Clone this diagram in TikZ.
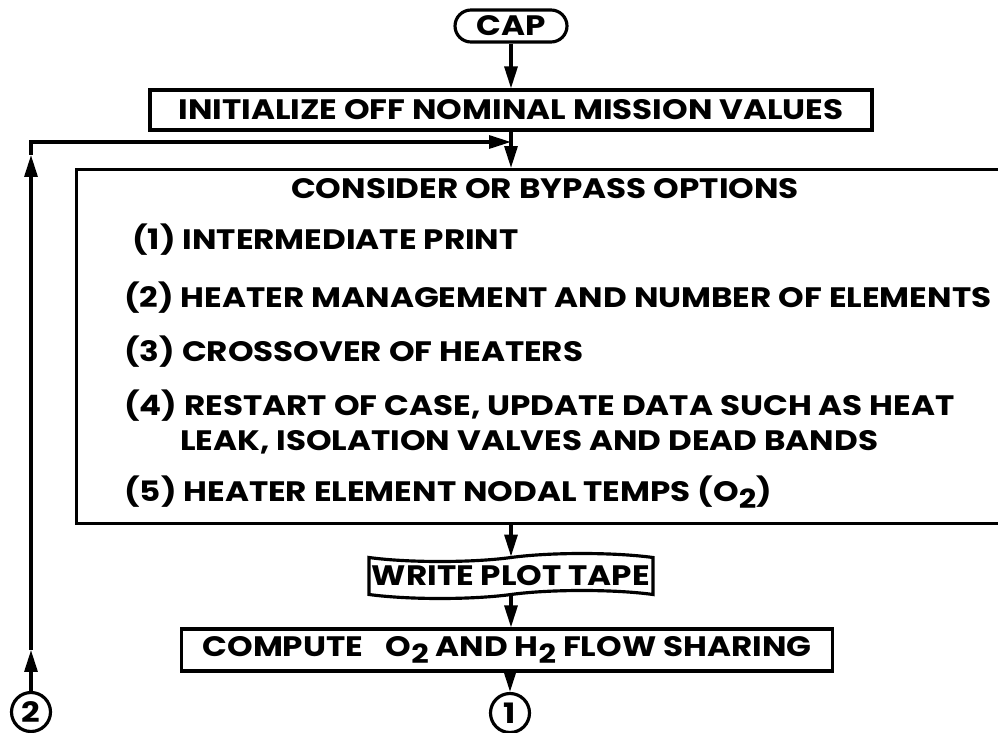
\documentclass[tikz,border=0pt]{standalone}
\usepackage{fontspec}
\setmainfont{Poppins}[FakeStretch=1.16]
\usetikzlibrary{arrows.meta,positioning,shapes.symbols}
\newcommand{\subtwo}{\raisebox{-0.45ex}{\fontsize{15}{15}\selectfont 2}}

\begin{document}
\begin{tikzpicture}[
    x=0.02cm, y=-0.02cm,
    font=\fontsize{16}{18}\selectfont\bfseries,
    box/.style={rectangle, draw, line width=1.8pt, inner sep=0pt},
    term/.style={box, rounded corners=0.32cm, minimum width=2.24cm, minimum height=0.64cm},
    tapebox/.style={tape, draw, line width=1.8pt, inner sep=0pt, minimum width=5.68cm, minimum height=0.9cm, tape bend height=0.16cm},
    conn/.style={circle, draw, line width=1.8pt, inner sep=0pt, minimum size=0.78cm},
    item/.style={anchor=base west, inner sep=0pt},
    arr/.style={-{Triangle[length=4.4mm, width=2.6mm]}, line width=1.8pt}
]
    \useasboundingbox (0,0) rectangle (998,733);

    % main chain
    \node[term] (cap) at (511,26) {CAP};
    \node[box, minimum width=14.44cm, minimum height=0.8cm] (init) at (511,110) {INITIALIZE OFF NOMINAL MISSION VALUES};
    \node[box, anchor=north west, minimum width=18.8cm, minimum height=7.08cm] (opts) at (75,168) {};
    \node[tapebox] (plot) at (511,576) {WRITE PLOT TAPE};
    \node[box, minimum width=13.02cm, minimum height=0.84cm] (flow) at (507,650) {COMPUTE\hspace{0.55em} O\subtwo{} AND H\subtwo{} FLOW SHARING};
    \node[conn] (one) at (510,713) {1};
    \node[conn] (two) at (31,712) {2};

    % options list
    \node[inner sep=0pt, anchor=base] (title) at (545,199) {CONSIDER OR BYPASS OPTIONS};
    \node[item] (opt1) at (132,250) {(1) INTERMEDIATE PRINT};
    \node[item] (opt2) at (124,308) {(2) HEATER MANAGEMENT AND NUMBER OF ELEMENTS};
    \node[item] (opt3) at (124,361) {(3) CROSSOVER OF HEATERS};
    \node[item] (opt4) at (124,416) {(4) RESTART OF CASE, UPDATE DATA SUCH AS HEAT};
    \node[item] (opt4b) at (180,450) {LEAK, ISOLATION VALVES AND DEAD BANDS};
    \node[item] (opt5) at (124,501) {(5) HEATER ELEMENT NODAL TEMPS (O\subtwo)};

    \draw[arr] (cap) -- (init);
    \draw[arr] (init.south) -- (init.south |- opts.north);
    \draw[arr] (plot.north |- opts.south) -- (plot.north);
    \draw[arr] (plot.south) -- (plot.south |- flow.north);
    \draw[arr] (flow.south -| one) -- (one);

    % return path
    \coordinate (up2) at (31,650);
    \coordinate (up1) at (31,155);
    \coordinate (back) at (511,142);
    \draw[arr] (two) -- (up2);
    \draw[arr] (up2) -- (up1);
    \draw[arr] (up1) |- (back);
\end{tikzpicture}
\end{document}
